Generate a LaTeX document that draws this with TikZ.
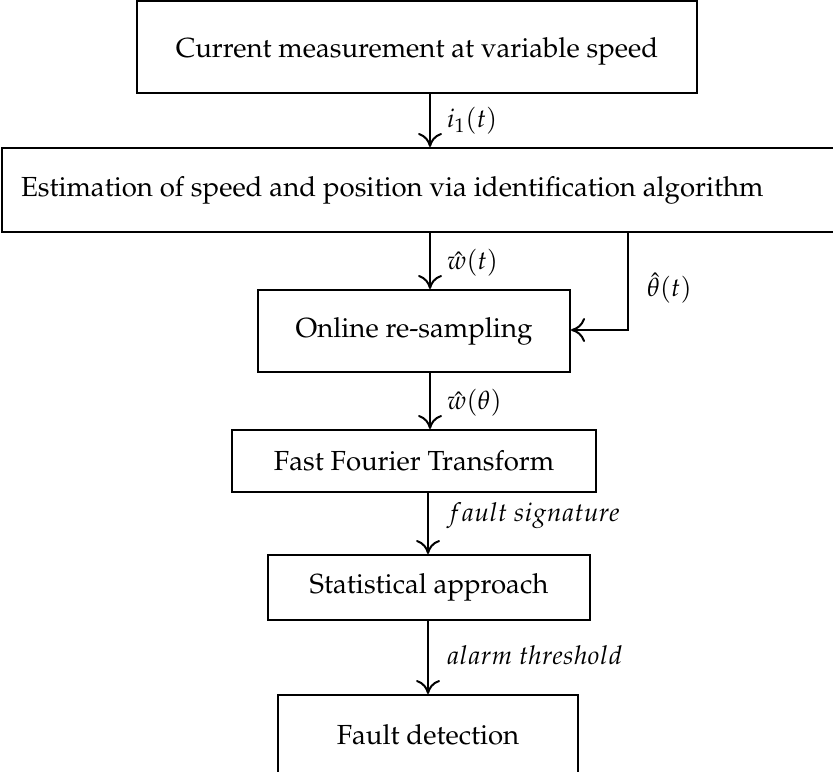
\documentclass[tikz,border=0pt]{standalone}
\usepackage[T1]{fontenc}
\usepackage{mathpazo}
\usetikzlibrary{arrows.meta}
\tikzset{
  box/.style={draw, line width=1pt, rectangle, inner sep=0pt, font=\fontsize{13.8}{16}\selectfont},
  flow/.style={line width=1pt, -{To[length=7pt,width=12pt]}},
  lbl/.style={anchor=west, inner sep=0pt, font=\fontsize{13}{15}\selectfont},
}
\begin{document}
\begin{tikzpicture}[x=0.5pt, y=-0.5pt]
  \useasboundingbox (0,0) rectangle (833,771);
  % process boxes (sizes in pixels of the 833x771 canvas, half a point each)
  \node[box, minimum width=280pt, minimum height=46pt, text height=13pt, text depth=3pt] (b1) at (417,47) {Current measurement at variable speed};
  \node[box, anchor=west, minimum height=42pt, inner xsep=9.5pt] (b2) at (1,190)
       {Estimation of speed and position via identification algorithm\hspace*{60pt}};
  \node[box, minimum width=156pt, minimum height=41pt] (b3) at (414,331) {Online re-sampling};
  \node[box, minimum width=182pt, minimum height=31pt] (b4) at (414,461) {Fast Fourier Transform};
  \node[box, minimum width=161pt, minimum height=32.5pt] (b5) at (429,587.5) {Statistical approach};
  \node[box, minimum width=150pt, minimum height=40pt] (b6) at (428,735) {Fault detection};
  % signal flow
  \draw[flow] (b1.south -| 430,0) -- (b2.north -| 430,0) node[midway, lbl, xshift=8pt] {$i_1(t)$};
  \draw[flow] (b2.south -| 430,0) -- (b3.north -| 430,0) node[midway, lbl, xshift=8pt, yshift=-1pt] {$\hat{w}(t)$};
  \draw[flow] (b2.south -| 628,0) -- (628,330) node[pos=0.55, lbl, xshift=9pt, yshift=-1pt] {$\hat{\theta}(t)$} -- (b3.east |- 628,330);
  \draw[flow] (b3.south -| 430,0) -- (b4.north -| 430,0) node[midway, lbl, xshift=8pt, yshift=-1pt] {$\hat{w}(\theta)$};
  \draw[flow] (b4.south -| 428,0) -- (b5.north -| 428,0) node[midway, lbl, xshift=9pt, yshift=4pt] {$fault\ signature$};
  \draw[flow] (b5.south -| 428,0) -- (b6.north -| 428,0) node[midway, lbl, xshift=9pt, yshift=1pt] {$alarm\ threshold$};
\end{tikzpicture}
\end{document}
